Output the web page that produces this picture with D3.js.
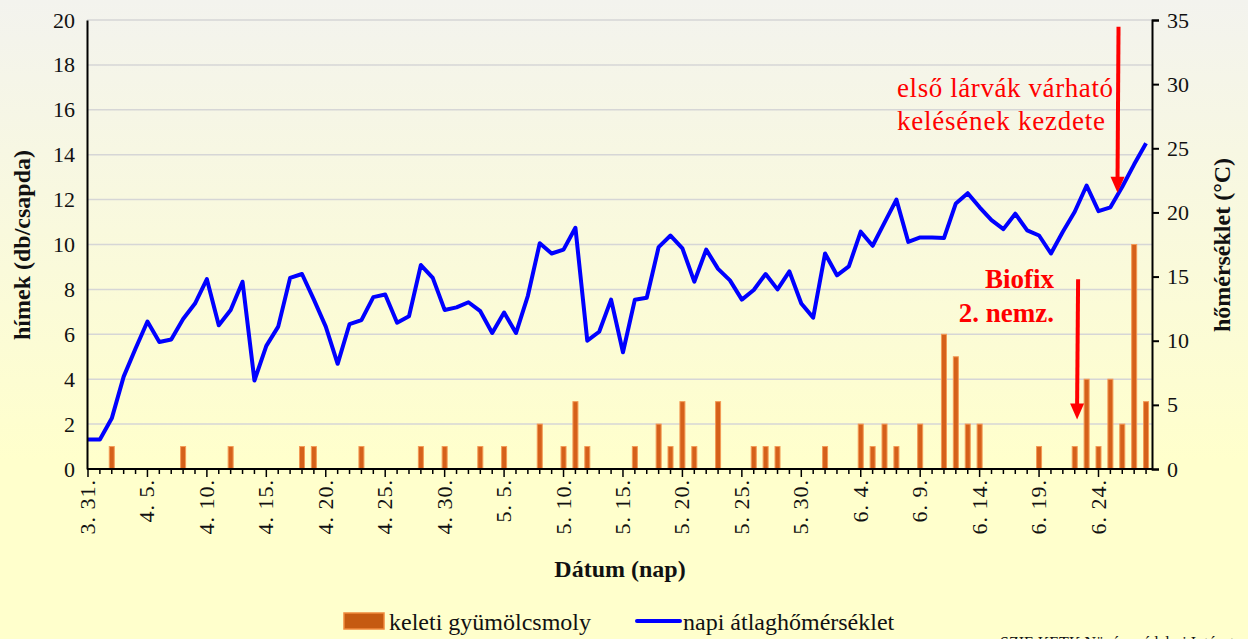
<!DOCTYPE html>
<html>
<head>
<meta charset="utf-8">
<script src="https://cdn.jsdelivr.net/npm/d3@7/dist/d3.min.js"></script>
<style>
    html, body { margin: 0; padding: 0; }
    body { width: 1248px; height: 639px; overflow: hidden; }
    svg { display: block; font-family: "Liberation Serif", "Times New Roman", serif; }
</style>
</head>
<body>
<svg id="chart" width="1248" height="639"></svg>
<script>
// x axis labels (day index from 3.31.)
var tickDays = [0, 5, 10, 15, 20, 25, 30, 35, 40, 45, 50, 55, 60, 65, 70, 75, 80, 85];
var tickLabels = ["3. 31.", "4. 5.", "4. 10.", "4. 15.", "4. 20.", "4. 25.", "4. 30.", "5. 5.", "5. 10.",
    "5. 15.", "5. 20.", "5. 25.", "5. 30.", "6. 4.", "6. 9.", "6. 14.", "6. 19.", "6. 24."];

// keleti gyümölcsmoly catches (day index, count)
var mothDays = [2, 8, 12, 18, 19, 23, 28, 30, 33, 35, 38, 40, 41, 42, 46, 48, 49, 50, 51, 53, 56, 57, 58,
    62, 65, 66, 67, 68, 70, 72, 73, 74, 75, 80, 83, 84, 85, 86, 87, 88, 89];
var mothCounts = [1, 1, 1, 1, 1, 1, 1, 1, 1, 1, 2, 1, 3, 1, 1, 2, 1, 3, 1, 3, 1, 1, 1,
    1, 2, 1, 2, 1, 2, 6, 5, 2, 2, 1, 1, 4, 1, 4, 2, 10, 3];

// napi átlaghőmérséklet, one value per day from 3.31. to 6.28.
var tempC = [2.3, 2.3, 3.95, 7.2, 9.4, 11.5, 9.9, 10.1, 11.7, 12.9,
    14.8, 11.2, 12.4, 14.6, 6.9, 9.6, 11.1, 14.9, 15.2, 13.2,
    11.1, 8.2, 11.3, 11.6, 13.4, 13.6, 11.4, 11.9, 15.9, 14.9,
    12.4, 12.6, 13.0, 12.3, 10.6, 12.2, 10.6, 13.5, 17.6, 16.8,
    17.1, 18.8, 10.0, 10.7, 13.2, 9.1, 13.2, 13.35, 17.3, 18.2,
    17.2, 14.6, 17.1, 15.6, 14.7, 13.2, 13.95, 15.2, 14.0, 15.4,
    12.9, 11.8, 16.8, 15.1, 15.8, 18.5, 17.4, 19.2, 21.0, 17.7,
    18.05, 18.05, 18.0, 20.7, 21.5, 20.4, 19.4, 18.7, 19.9, 18.6,
    18.2, 16.8, 18.5, 20.05, 22.1, 20.1, 20.4, 22.0, 23.75, 25.4];

var svg = d3.select("#chart");

// background gradient like the excel chart area
var defs = svg.append("defs");
var grad = defs.append("linearGradient")
    .attr("id", "bg")
    .attr("x1", 0).attr("y1", 0).attr("x2", 0).attr("y2", 1);
grad.append("stop").attr("offset", "0%").attr("stop-color", "#f3f3ee");
grad.append("stop").attr("offset", "72%").attr("stop-color", "#ffffcc");
grad.append("stop").attr("offset", "100%").attr("stop-color", "#ffffcc");

svg.append("rect")
    .attr("width", 1248)
    .attr("height", 639)
    .attr("fill", "url(#bg)");

var plotLeft = 87,
    plotRight = 1152,
    plotTop = 20,
    plotBottom = 469;

// scales
var x = d3.scaleLinear().domain([0, 89.5]).range([plotLeft + 1, plotRight]);
var y = d3.scaleLinear().domain([0, 20]).range([plotBottom, plotTop]);
var yT = d3.scaleLinear().domain([0, 35]).range([plotBottom, plotTop]);

// gridlines
svg.append("g")
    .selectAll("line")
    .data(d3.range(2, 21, 2))
    .join("line")
    .attr("x1", plotLeft)
    .attr("x2", plotRight)
    .attr("y1", function(d) { return y(d); })
    .attr("y2", function(d) { return y(d); })
    .attr("stroke", "#d6d6d6")
    .attr("stroke-width", 1.5);

// bars
svg.append("g")
    .selectAll("rect")
    .data(mothDays.map(function(d, i) { return {day: d, value: mothCounts[i]}; }))
    .join("rect")
    .attr("x", function(d) { return x(d.day) - 2.5; })
    .attr("width", 5)
    .attr("y", function(d) { return y(d.value); })
    .attr("height", function(d) { return plotBottom - y(d.value); })
    .attr("fill", "#d5601a")
    .attr("stroke", "#f39a55")
    .attr("stroke-width", 1);

// temperature line
var line = d3.line()
    .x(function(d, i) { return x(i); })
    .y(function(d) { return yT(d); });

svg.append("path")
    .datum(tempC)
    .attr("d", line)
    .attr("fill", "none")
    .attr("stroke", "#0000ff")
    .attr("stroke-width", 4)
    .attr("stroke-linejoin", "round");

// left axis
var leftAxis = svg.append("g")
    .attr("transform", "translate(" + plotLeft + ",0)")
    .call(d3.axisLeft(y).tickValues(d3.range(0, 21, 2)).tickSize(0).tickPadding(12));
leftAxis.select(".domain").attr("stroke", "#000").attr("stroke-width", 2);
leftAxis.selectAll("text").attr("font-size", 22).attr("fill", "#111").style("font-family", "Liberation Serif");

// right axis
var rightAxis = svg.append("g")
    .attr("transform", "translate(" + plotRight + ",0)")
    .call(d3.axisRight(yT).tickValues(d3.range(0, 36, 5)).tickSize(7).tickPadding(8));
rightAxis.select(".domain").attr("stroke", "#000").attr("stroke-width", 2);
rightAxis.selectAll(".tick line").attr("stroke", "#000").attr("stroke-width", 2);
rightAxis.selectAll("text").attr("font-size", 22).attr("fill", "#111").style("font-family", "Liberation Serif");

// x axis: minor ticks every day, major every 5 days
var xAxis = svg.append("g");
xAxis.append("line")
    .attr("x1", plotLeft)
    .attr("x2", plotRight)
    .attr("y1", plotBottom)
    .attr("y2", plotBottom)
    .attr("stroke", "#000")
    .attr("stroke-width", 2);
xAxis.selectAll("line.minor")
    .data(tempC.map(function(d, i) { return i; }))
    .join("line")
    .attr("class", "minor")
    .attr("x1", function(d) { return x(d); })
    .attr("x2", function(d) { return x(d); })
    .attr("y1", plotBottom)
    .attr("y2", function(d) { return tickDays.indexOf(d) >= 0 ? plotBottom + 8 : plotBottom + 5; })
    .attr("stroke", "#000")
    .attr("stroke-width", 1.5);
xAxis.selectAll("text")
    .data(tickDays)
    .join("text")
    .attr("transform", function(d) { return "translate(" + (x(d) + 7) + "," + (plotBottom + 10) + ") rotate(-90)"; })
    .attr("text-anchor", "end")
    .attr("font-size", 22)
    .attr("letter-spacing", 1)
    .attr("fill", "#111")
    .text(function(d, i) { return tickLabels[i]; });

// axis titles
svg.append("text")
    .attr("transform", "translate(30,245) rotate(-90)")
    .attr("text-anchor", "middle")
    .attr("font-size", 24)
    .attr("font-weight", "bold")
    .attr("fill", "#111")
    .text("hímek (db/csapda)");

svg.append("text")
    .attr("transform", "translate(1230,245) rotate(-90)")
    .attr("text-anchor", "middle")
    .attr("font-size", 24)
    .attr("font-weight", "bold")
    .attr("fill", "#111")
    .text("hőmérséklet (°C)");

svg.append("text")
    .attr("x", 620)
    .attr("y", 577)
    .attr("text-anchor", "middle")
    .attr("font-size", 24)
    .attr("font-weight", "bold")
    .attr("fill", "#111")
    .text("Dátum (nap)");

// annotations
var red = "#ff0000";
var arrows = [
    {day: 86.6, from: 19.7, to: 12.3},
    {day: 83.2, from: 8.45, to: 2.2}
];
arrows.forEach(function(a) {
    var ax = x(a.day);
    svg.append("line")
        .attr("x1", ax + 1)
        .attr("x2", ax)
        .attr("y1", y(a.from))
        .attr("y2", y(a.to) - 14)
        .attr("stroke", red)
        .attr("stroke-width", 4);
    svg.append("path")
        .attr("d", "M" + (ax - 7) + "," + (y(a.to) - 16) + "L" + (ax + 7) + "," + (y(a.to) - 16) + "L" + ax + "," + y(a.to) + "Z")
        .attr("fill", red);
});

svg.append("text")
    .attr("x", 897).attr("y", 97)
    .attr("font-size", 27)
    .attr("fill", red)
    .attr("textLength", 216)
    .attr("lengthAdjust", "spacing")
    .text("első lárvák várható");
svg.append("text")
    .attr("x", 897).attr("y", 130)
    .attr("font-size", 27)
    .attr("fill", red)
    .attr("textLength", 208)
    .attr("lengthAdjust", "spacing")
    .text("kelésének kezdete");

svg.append("text")
    .attr("x", 1054).attr("y", 288)
    .attr("text-anchor", "end")
    .attr("font-size", 27)
    .attr("font-weight", "bold")
    .attr("fill", red)
    .text("Biofix");
svg.append("text")
    .attr("x", 1054).attr("y", 322)
    .attr("text-anchor", "end")
    .attr("font-size", 27)
    .attr("font-weight", "bold")
    .attr("fill", red)
    .text("2. nemz.");

// legend
var legend = svg.append("g");
legend.append("rect")
    .attr("x", 344).attr("y", 613)
    .attr("width", 40).attr("height", 16)
    .attr("fill", "#c55a11")
    .attr("stroke", "#f08a3c")
    .attr("stroke-width", 1.5);
legend.append("text")
    .attr("x", 389).attr("y", 630)
    .attr("font-size", 24)
    .attr("fill", "#111")
    .text("keleti gyümölcsmoly");
legend.append("line")
    .attr("x1", 637).attr("x2", 680)
    .attr("y1", 621).attr("y2", 621)
    .attr("stroke", "#0000ff")
    .attr("stroke-width", 4)
    .attr("stroke-linecap", "round");
legend.append("text")
    .attr("x", 683).attr("y", 630)
    .attr("font-size", 24)
    .attr("fill", "#111")
    .text("napi átlaghőmérséklet");

// source note, cut off by the bottom edge like in the original
svg.append("text")
    .attr("x", 1000).attr("y", 648)
    .attr("font-size", 16)
    .attr("fill", "#111")
    .text("SZIE KETK Növényvédelmi Intézet");
</script>
</body>
</html>
